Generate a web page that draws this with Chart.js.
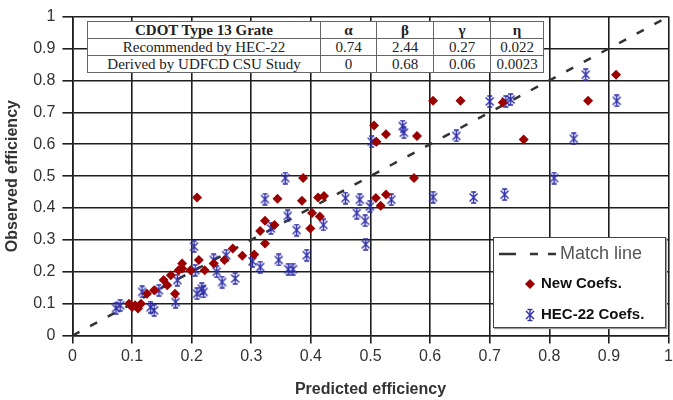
<!DOCTYPE html>
<html lang="en">
<head>
    <meta charset="UTF-8">
    <title>CDOT Type 13 Grate - efficiency</title>
    <script src="https://cdn.jsdelivr.net/npm/chart.js"></script>
    <style>
        html, body { margin: 0; padding: 0; background: #fff; overflow: hidden; }
        #wrap { position: relative; width: 673px; height: 400px; overflow: hidden; }
        #coefTable {
            position: absolute; left: 87px; top: 21px; width: 457px;
            border-collapse: collapse; background: #fff;
            font-family: "Liberation Serif", "Times New Roman", serif; font-size: 15px; color: #222;
        }
        #coefTable td { border: 1px solid #666; padding: 0; height: 16px; line-height: 16px; text-align: center; }
        #coefTable tr:first-child td { font-weight: bold; }
        #legendBox {
            position: absolute; left: 493px; top: 237px; width: 171px; height: 89px;
            background: #fff; border: 1px solid #444; box-shadow: 1px 1px 1px #999;
            font-family: "Liberation Sans", Arial, sans-serif;
        }
        .lg { position: absolute; left: 0; white-space: nowrap; }
        .lg svg { position: absolute; }
        .lg span { position: absolute; }
    </style>
</head>
<body>
<div id="wrap">
    <canvas id="effChart" width="676" height="400"></canvas>

    <table id="coefTable">
        <tr><td style="width:232px">CDOT Type 13 Grate</td><td style="width:55px">α</td><td style="width:56px">β</td><td style="width:56px">γ</td><td>η</td></tr>
        <tr><td>Recommended by HEC-22</td><td>0.74</td><td>2.44</td><td>0.27</td><td>0.022</td></tr>
        <tr><td>Derived by UDFCD CSU Study</td><td>0</td><td>0.68</td><td>0.06</td><td>0.0023</td></tr>
    </table>

    <div id="legendBox">
        <div class="lg" style="top:4px">
            <svg width="60" height="24" style="left:4px;top:0"><line x1="1" y1="12" x2="58" y2="12" stroke="#333" stroke-width="2.5" stroke-dasharray="17,14,8,10,8,20"/></svg>
            <span style="left:66px;top:1px;font-size:18px;color:#555">Match line</span>
        </div>
        <div class="lg" style="top:35px">
            <svg width="14" height="14" style="left:29px;top:4px"><polygon points="7,2 12,7 7,12 2,7" fill="#9a0000"/></svg>
            <span style="left:47px;top:1px;font-size:15px;font-weight:bold;color:#111">New Coefs.</span>
        </div>
        <div class="lg" style="top:66px">
            <svg width="14" height="14" style="left:29px;top:4px" stroke="#2e2ea8" stroke-width="1.4"><line x1="3" y1="3" x2="11" y2="11"/><line x1="3" y1="11" x2="11" y2="3"/><line x1="7" y1="1.5" x2="7" y2="12.5"/><line x1="4.5" y1="1.5" x2="9.5" y2="1.5"/><line x1="4.5" y1="12.5" x2="9.5" y2="12.5"/></svg>
            <span style="left:47px;top:1px;font-size:15px;font-weight:bold;color:#111">HEC-22 Coefs.</span>
        </div>
    </div>
</div>

<script>
    // predicted / observed efficiency pairs
    const newCoefs = [
        [0.095, 0.10], [0.10, 0.09], [0.105, 0.095], [0.11, 0.085], [0.115, 0.10],
        [0.125, 0.131], [0.137, 0.142], [0.153, 0.174], [0.159, 0.158], [0.165, 0.189],
        [0.172, 0.131], [0.178, 0.205], [0.184, 0.21], [0.184, 0.226], [0.198, 0.205],
        [0.212, 0.237], [0.209, 0.433], [0.222, 0.205], [0.237, 0.226], [0.255, 0.237],
        [0.269, 0.273], [0.285, 0.25], [0.305, 0.254], [0.315, 0.328], [0.323, 0.36],
        [0.323, 0.289], [0.339, 0.347], [0.344, 0.429], [0.385, 0.423], [0.387, 0.494],
        [0.399, 0.336], [0.402, 0.384], [0.415, 0.373], [0.412, 0.433], [0.422, 0.438],
        [0.506, 0.659], [0.51, 0.608], [0.509, 0.431], [0.517, 0.407], [0.526, 0.442],
        [0.526, 0.631], [0.573, 0.494], [0.578, 0.626], [0.605, 0.736], [0.651, 0.736],
        [0.722, 0.731], [0.757, 0.615], [0.865, 0.736], [0.912, 0.818]
    ];
    const hec22Coefs = [
        [0.073, 0.086], [0.08, 0.095], [0.117, 0.137], [0.131, 0.089], [0.137, 0.079],
        [0.145, 0.142], [0.173, 0.105], [0.176, 0.174], [0.204, 0.279], [0.206, 0.205],
        [0.209, 0.131], [0.217, 0.147], [0.22, 0.137], [0.237, 0.237], [0.242, 0.2],
        [0.251, 0.168], [0.258, 0.252], [0.273, 0.179], [0.302, 0.233], [0.315, 0.215],
        [0.323, 0.428], [0.333, 0.336], [0.346, 0.237], [0.357, 0.494], [0.361, 0.375],
        [0.362, 0.208], [0.37, 0.208], [0.376, 0.331], [0.393, 0.252], [0.421, 0.347],
        [0.458, 0.431], [0.477, 0.384], [0.482, 0.426], [0.491, 0.36], [0.492, 0.286],
        [0.499, 0.405], [0.502, 0.608], [0.535, 0.426], [0.554, 0.657], [0.556, 0.636],
        [0.605, 0.434], [0.644, 0.626], [0.673, 0.433], [0.70, 0.734], [0.725, 0.442],
        [0.727, 0.734], [0.735, 0.74], [0.808, 0.494], [0.841, 0.617], [0.861, 0.818],
        [0.913, 0.736]
    ];
    const matchLine = [[0, 0], [1, 1]];
    const axisMin = 0, axisMax = 1, axisStep = 0.1;

    const toXY = arr => arr.map(p => ({x: p[0], y: p[1]}));
    const tickText = v => String(Number(v.toFixed(1)));   // 0, 0.1 ... 0.9, 1

    // asterisk marker like the spreadsheet one: X + vertical bar with caps
    function makeAsterisk(color) {
        const c = document.createElement('canvas');
        c.width = 13; c.height = 13;
        const g = c.getContext('2d');
        g.strokeStyle = color; g.lineWidth = 1.4;
        g.beginPath();
        g.moveTo(2.5, 2.5); g.lineTo(10.5, 10.5);
        g.moveTo(2.5, 10.5); g.lineTo(10.5, 2.5);
        g.moveTo(6.5, 1); g.lineTo(6.5, 12);
        g.moveTo(4, 1); g.lineTo(9, 1);
        g.moveTo(4, 12); g.lineTo(9, 12);
        g.stroke();
        return c;
    }

    const gridStyle = tickLen => ({
        color: '#1e1e1e',
        lineWidth: 1.6,
        drawTicks: true,
        tickLength: tickLen,
        tickColor: '#1e1e1e'
    });

    new Chart(document.getElementById('effChart').getContext('2d'), {
        type: 'scatter',
        data: {
            datasets: [
                {
                    label: 'New Coefs.',
                    data: toXY(newCoefs),
                    pointStyle: 'rectRot',
                    pointRadius: 5,
                    backgroundColor: '#9a0000',
                    borderColor: '#9a0000',
                    borderWidth: 0
                },
                {
                    label: 'HEC-22 Coefs.',
                    data: toXY(hec22Coefs),
                    pointStyle: makeAsterisk('#2e2ea8'),
                    pointRadius: 6
                },
                {
                    type: 'line',
                    label: 'Match line',
                    data: toXY(matchLine),
                    borderColor: '#333',
                    borderWidth: 2.5,
                    borderDash: [8, 12],
                    pointRadius: 0,
                    fill: false
                }
            ]
        },
        options: {
            responsive: false,
            animation: false,
            devicePixelRatio: 1,
            layout: { padding: { top: 16, left: 0, right: 0, bottom: 0 } },
            plugins: { legend: { display: false }, tooltip: { enabled: false } },
            scales: {
                x: {
                    type: 'linear', min: axisMin, max: axisMax,
                    ticks: { stepSize: axisStep, color: '#333', padding: 3, callback: tickText,
                        font: { family: 'Liberation Sans', size: 16 } },
                    grid: gridStyle(8),
                    border: { color: '#1e1e1e', width: 1.6 },
                    title: { display: true, text: 'Predicted efficiency', color: '#333',
                        font: { family: 'Liberation Sans', size: 16, weight: 'bold' }, padding: { top: 11, bottom: 1 } }
                },
                y: {
                    type: 'linear', min: axisMin, max: axisMax,
                    ticks: { stepSize: axisStep, color: '#333', padding: 7, callback: tickText,
                        font: { family: 'Liberation Sans', size: 16 } },
                    grid: gridStyle(10),
                    border: { color: '#1e1e1e', width: 1.6 },
                    title: { display: true, text: 'Observed efficiency', color: '#333',
                        font: { family: 'Liberation Sans', size: 16, weight: 'bold' }, padding: { top: 3, bottom: 4 } }
                }
            }
        }
    });
</script>
</body>
</html>
